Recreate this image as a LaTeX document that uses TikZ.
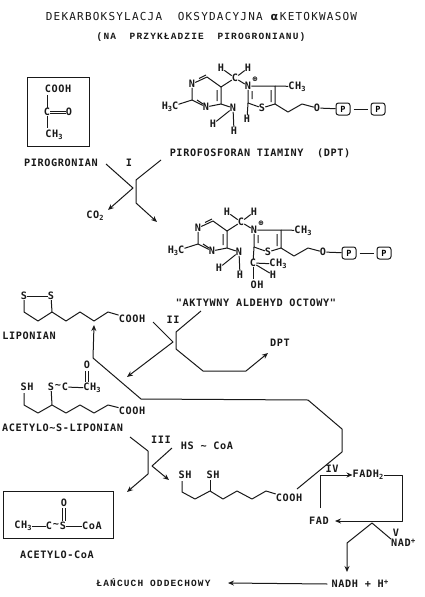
\documentclass[tikz,border=0pt]{standalone}
\usepackage{fontspec}
\usetikzlibrary{arrows.meta}
\newfontfamily\labfont[LetterSpace=6]{DejaVu Sans Mono Bold}
\newfontfamily\titfont[LetterSpace=11]{DejaVu Sans Mono}
\newfontfamily\subfont[LetterSpace=12]{Liberation Mono Bold}
\newfontfamily\symfont{DejaVu Sans}
\newcommand{\lw}[1]{\raisebox{-1.6pt}{\fontsize{7}{7}\selectfont #1}}
\tikzset{
  atom/.style={inner sep=0pt,font=\labfont\fontsize{10.2}{11}\selectfont,text=black!90},
  lbl/.style={inner sep=0pt,font=\labfont\fontsize{10.2}{11}\selectfont,text=black!90},
  tit/.style={inner sep=0pt,font=\titfont\fontsize{11}{12}\selectfont,text=black!90},
  subt/.style={inner sep=0pt,font=\subfont\fontsize{9.5}{11}\selectfont,text=black!90},
  bond/.style={draw=black!90,line width=1pt,line join=round},
  conn/.style={draw=black!90,line width=1pt,line join=round},
  arr/.style={conn,-{Stealth[length=6pt,width=5pt]}},
  pbox/.style={draw=black!90,line width=1pt,rounded corners=2.5pt,minimum width=14pt,minimum height=12pt,inner sep=0pt,font=\labfont\fontsize{8.5}{10}\selectfont},
  frame/.style={draw=black!90,line width=1pt}
}
\newcommand{\tpp}[2]{%
\begin{scope}[shift={#1},name prefix=#2-]
  \node[atom] (N1) at (192,84) {N};
  \node[atom] (N3) at (206,107) {N};
  \node[atom] (h3c) at (170,107) {H\lw{3}C};
  \coordinate (ca) at (207,77);
  \coordinate (cb) at (221,87);
  \coordinate (cc) at (221,104);
  \coordinate (cd) at (192,100);
  \node[atom] (br) at (235,78) {C};
  \node[atom] (hl) at (221,68) {H};
  \node[atom] (hr) at (248,68) {H};
  \node[atom] (Np) at (248,86) {N};
  \node[inner sep=0pt,font=\symfont\bfseries\fontsize{7}{8}\selectfont] (pl) at (255,79) {⊕};
  \coordinate (c4) at (275,86);
  \node[atom] (me) at (297,86.5) {CH\lw{3}};
  \coordinate (c5) at (275,104);
  \node[atom] (S) at (262,108) {S};
  \coordinate (c2) at (248,103);
  \node[atom] (Nam) at (233,108) {N};
  \node[atom] (ha) at (213,124) {H};
  \node[atom] (hb) at (234,131) {H};
  \coordinate (e1) at (288,112);
  \coordinate (e2) at (302,104);
  \node[atom] (O) at (317,108) {O};
  \node[pbox] (P1) at (343,109) {P};
  \node[pbox] (P2) at (378,109) {P};
  \draw[bond] (N1)--(ca)--(cb)--(cc)--(N3)--(cd)--(N1);
  \draw[bond] (cd)--(h3c);
  \draw[bond] (cb)--(br);
  \draw[bond] (br)--(hl);
  \draw[bond] (br)--(hr);
  \draw[bond] (br)--(Np);
  \draw[bond] (cc)--(Nam);
  \draw[bond] (Nam)--(ha);
  \draw[bond] (Nam)--(hb);
  \draw[bond] (Np)--(c4)--(c5)--(S)--(c2)--(Np);
  \draw[bond] (c4)--(me);
  \draw[bond] (c5)--(e1)--(e2)--(O);
  \draw[bond] (O)--(P1);
  \draw[bond,shorten >=3pt,shorten <=3pt] (P1)--(P2);
  \draw[bond] (199,78.5)--(206,75) (217,90)--(217,101) (197,100)--(203,104)
              (252,91)--(252,99) (271,90)--(271,102);
\end{scope}}
\begin{document}
\begin{tikzpicture}[x=1pt,y=-1pt]
\useasboundingbox[fill=white] (0,0) rectangle (425,597);

% titles
\node[tit] (title) at (201.5,16) {DEKARBOKSYLACJA~~OKSYDACYJNA~{\symfont\bfseries α}\,KETOKWASOW};
\node[subt] (subtitle) at (201,37) {(NA~~PRZYKŁADZIE~~PIROGRONIANU)};

% pyruvate box
\node[frame,minimum width=62pt,minimum height=69pt,inner sep=0pt] (pbx) at (58,111.5) {};
\node[atom] (cooh) at (58,89) {COOH};
\node[atom] (pc) at (47,112) {C};
\node[atom] (po) at (69,112) {O};
\node[atom] (pm) at (54,135) {CH\lw{3}};
\draw[bond] (47,95)--(pc);
\draw[bond] (pc)--(47,128);
\draw[bond] ([yshift=-1pt]pc.east)--([yshift=-1pt]po.west) ([yshift=1pt]pc.east)--([yshift=1pt]po.west);
\node[lbl] (lpir) at (61,163) {PIROGRONIAN};

% thiamine
\tpp{(0,0)}{a}
\node[atom] (aH) at (247,119) {H};
\draw[bond] (a-c2)--(aH);
\node[lbl] (ldpt) at (260,153) {PIROFOSFORAN TIAMINY~~(DPT)};

% reaction I
\node[lbl] (rI) at (129,163) {I};
\coordinate (i1) at (106,164);
\coordinate (i2) at (133,188);
\node[lbl] (co2) at (95,216) {CO\lw{2}};
\coordinate (i3) at (108,210);
\coordinate (i4) at (161,160);
\coordinate (i5) at (136,180);
\coordinate (i6) at (136,203);
\coordinate (i7) at (157,222);
\draw[arr] (i1)--(i2)--(i3);
\draw[arr] (i4)--(i5)--(i6)--(i7);

% active aldehyde
\tpp{(6,144)}{b}
\node[atom] (bC) at (253,263) {C};
\node[atom] (bme) at (278,264) {CH\lw{3}};
\node[atom] (bH) at (273,275) {H};
\node[atom] (bOH) at (257,285) {OH};
\draw[bond] (b-c2)--(bC);
\draw[bond] (bC)--(bme);
\draw[bond] (bC)--(bH);
\draw[bond] (bC)--(253,279);
\node[lbl] (lakt) at (256,303) {"AKTYWNY ALDEHYD OCTOWY"};

% lipoate
\node[atom] (ls1) at (24,296) {S};
\node[atom] (ls2) at (51,296) {S};
\node[atom] (lcooh) at (132,319) {COOH};
\coordinate (l1) at (24,312);
\coordinate (l2) at (38,321);
\coordinate (l3) at (52,312);
\coordinate (l4) at (66,321);
\coordinate (l5) at (80,312);
\coordinate (l6) at (94,321);
\coordinate (l7) at (108,312);
\draw[bond] (ls1)--(ls2);
\draw[bond] (ls1)--(l1)--(l2)--(l3)--(ls2);
\draw[bond] (l3)--(l4)--(l5)--(l6)--(l7)--(lcooh);
\node[lbl] (llip) at (29,336) {LIPONIAN};

% long return arrow
\coordinate (u1) at (297,489);
\coordinate (u2) at (342,452);
\coordinate (u3) at (342,429);
\coordinate (u4) at (308,400);
\coordinate (u5) at (141,399);
\coordinate (u6) at (93,358);
\coordinate (u7) at (94,325);
\draw[arr] (u1)--(u2)--(u3)--(u4)--(u5)--(u6)--(u7);

% reaction II
\node[lbl] (rII) at (173,320) {II};
\coordinate (ii1) at (153,322);
\coordinate (ii2) at (173,342);
\coordinate (ii3) at (127,377);
\coordinate (ii4) at (201,311);
\coordinate (ii5) at (176,332);
\coordinate (ii6) at (176,349);
\coordinate (ii7) at (203,371);
\coordinate (ii8) at (246,371);
\coordinate (ii9) at (268,353);
\node[lbl] (ldpt2) at (280,343) {DPT};
\draw[arr] (ii1)--(ii2)--(ii3);
\draw[arr] (ii4)--(ii5)--(ii6)--(ii7)--(ii8)--(ii9);

% acetyl lipoate
\node[atom] (as) at (27,387) {SH};
\node[atom] (as2) at (51,387) {S};
\node[atom] (at) at (58,386) {\textasciitilde};
\node[atom] (ac) at (65,387) {C};
\node[atom] (aoo) at (87,365) {O};
\node[atom] (acm) at (92,388) {CH\lw{3}};
\node[atom] (acooh) at (132,411) {COOH};
\coordinate (m0) at (24,393);
\coordinate (m1) at (24,405);
\coordinate (m2) at (38,413);
\coordinate (m3) at (52,405);
\coordinate (m4) at (66,413);
\coordinate (m5) at (80,405);
\coordinate (m6) at (94,413);
\coordinate (m7) at (108,405);
\draw[bond] (m0)--(m1)--(m2)--(m3)--(m4)--(m5)--(m6)--(m7)--(acooh);
\draw[bond] (m3)--(as2);
\draw[bond] (ac)--(acm);
\draw[bond] (85,371)--(85,382) (88,371)--(88,382);
\node[lbl] (lacl) at (62.5,428) {ACETYLO\textasciitilde S-LIPONIAN};

% reaction III
\node[lbl] (rIII) at (161,440) {III};
\node[lbl] (hscoa) at (207,446) {HS \textasciitilde{} CoA};
\coordinate (t1) at (130,437);
\coordinate (t2) at (148,451);
\coordinate (t3) at (148,474);
\coordinate (t4) at (127,492);
\coordinate (t5) at (172,448);
\coordinate (t6) at (152,466);
\coordinate (t7) at (169,480);
\draw[arr] (t1)--(t2)--(t3)--(t4);
\draw[arr] (t5)--(t6)--(t7);

% dihydrolipoate
\node[atom] (sh1) at (185,475) {SH};
\node[atom] (sh2) at (213,475) {SH};
\node[atom] (dcooh) at (289,498) {COOH};
\coordinate (d1) at (182,492);
\coordinate (d2) at (195,499);
\coordinate (d3) at (210,491);
\coordinate (d4) at (223,499);
\coordinate (d5) at (237,491);
\coordinate (d6) at (252,499);
\coordinate (d7) at (266,491);
\draw[bond] (182,481)--(d1)--(d2)--(d3)--(d4)--(d5)--(d6)--(d7)--(dcooh);
\draw[bond] (d3)--(210,480);

% acetyl-CoA box
\node[frame,minimum width=110pt,minimum height=47pt,inner sep=0pt] (acbx) at (58,514.5) {};
\node[atom] (co) at (64,503) {O};
\node[atom] (cm) at (23,526) {CH\lw{3}};
\node[atom] (cc1) at (49,526) {C};
\node[atom] (ct) at (56,525) {\textasciitilde};
\node[atom] (cs) at (63,526) {S};
\node[atom] (ccoa) at (92,526) {CoA};
\draw[bond] (cm)--(cc1);
\draw[bond] (cs)--(ccoa);
\draw[bond] (62.5,508)--(62.5,521) (65.5,508)--(65.5,521);
\node[lbl] (lacc) at (57,555) {ACETYLO-CoA};

% FAD cycle
\node[lbl] (fad) at (319,521) {FAD};
\node[lbl] (fadh) at (368,475) {FADH\lw{2}};
\node[lbl] (rIV) at (332,469) {IV};
\node[lbl] (rV) at (396,533) {V};
\node[lbl,anchor=west] (nad) at (391,543) {NAD\raisebox{3pt}{\fontsize{7.5}{8}\selectfont +}};
\node[lbl] (nadh) at (360,584) {NADH + H\raisebox{3pt}{\fontsize{7.5}{8}\selectfont +}};
\node[subt] (lanc) at (153.5,583) {ŁAŃCUCH ODDECHOWY};
\coordinate (f0) at (320,508);
\coordinate (f1) at (320,475);
\coordinate (f2) at (402,475);
\coordinate (f3) at (402,521);
\coordinate (v1) at (372,523);
\coordinate (v2) at (347,543);
\draw[arr] (f0)--(f1)--(fadh.west);
\draw[arr] (fadh.east)--(f2)--(f3)--([xshift=6pt]fad.east |- f3);
\draw[arr] (nad.north west)--(v1)--(v2)--(347,572);
\draw[arr] ([xshift=-4pt]nadh.west)--(228,583);
\end{tikzpicture}
\end{document}
